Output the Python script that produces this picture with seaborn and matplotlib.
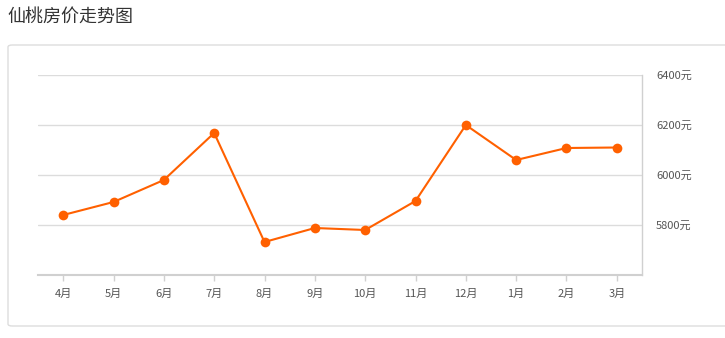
import matplotlib
matplotlib.use("Agg")
import matplotlib.pyplot as plt
import seaborn as sns
import pandas as pd
from matplotlib.patches import FancyBboxPatch

months = ["4月", "5月", "6月", "7月", "8月", "9月", "10月", "11月", "12月", "1月", "2月", "3月"]
prices = [5840, 5892, 5980, 6168, 5732, 5788, 5780, 5896, 6200, 6060, 6108, 6110]
yticks = [5800, 6000, 6200, 6400]
ytick_labels = ["5800元", "6000元", "6200元", "6400元"]

sns.set_theme(style="white")
plt.rcParams['font.family'] = ['Noto Sans CJK SC', 'DejaVu Sans']

W, H = 725, 338
fig = plt.figure(figsize=(W / 100, H / 100), dpi=100)

# panel border
panel = FancyBboxPatch((8 / W, (H - 326) / H), (740 - 8) / W, (326 - 45) / H,
                       boxstyle="round,pad=0,rounding_size=0.006",
                       transform=fig.transFigure, facecolor="none",
                       edgecolor="#dddddd", linewidth=1.0, zorder=-1)
fig.patches.append(panel)

fig.text(7 / W, 1 - 17 / H, "仙桃房价走势图", fontsize=13, color="#333333",
         va="center", ha="left")

ax = fig.add_axes([38 / W, (H - 275) / H, (642 - 38) / W, (275 - 75) / H])
ax.set_facecolor("none")
ax.set_zorder(2)

df = pd.DataFrame({"month": months, "price": prices, "x": range(len(months))})
sns.lineplot(data=df, x="x", y="price", ax=ax, color="#ff6000", linewidth=1.5,
             marker="o", markersize=7, markeredgewidth=0, zorder=3)

ax.set_xlim(-0.5, len(months) - 0.5)
ax.set_ylim(5600, 6400)
ax.set_xticks(range(len(months)))
ax.set_xticklabels(months)
ax.set_yticks(yticks)
ax.set_yticklabels(ytick_labels)
ax.yaxis.tick_right()
ax.set_xlabel("")
ax.set_ylabel("")
for yv in yticks:
    ax.axhline(yv, color="#dcdcdc", linewidth=1.0, zorder=1)

for s in ["top", "left"]:
    ax.spines[s].set_visible(False)
ax.spines["bottom"].set_color("#d0d0d0")
ax.spines["bottom"].set_linewidth(1.5)
ax.spines["right"].set_color("#d0d0d0")
ax.spines["right"].set_linewidth(1.0)

ax.tick_params(axis="x", bottom=True, length=4, width=1, color="#d0d0d0",
               labelsize=8, labelcolor="#555555", pad=6)
ax.tick_params(axis="y", right=False, left=False, length=0, labelsize=8,
               labelcolor="#555555", pad=10)

fig.savefig("out.png", dpi=100)
